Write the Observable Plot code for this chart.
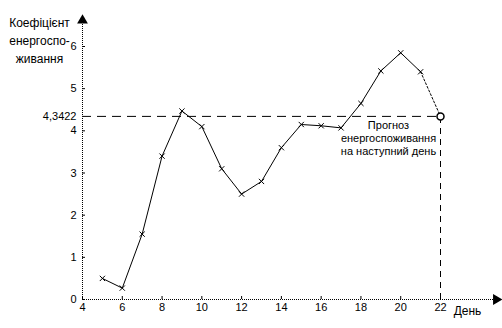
<!DOCTYPE html>
<html>
<head>
<meta charset="utf-8">
<script src="https://cdn.jsdelivr.net/npm/d3@7"></script>
<script src="https://cdn.jsdelivr.net/npm/@observablehq/plot@0.6"></script>
<style>
  html, body { margin: 0; padding: 0; background: #fff; }
</style>
</head>
<body>
<div id="chart"></div>
<script>
// ---- data ----
const days = [5, 6, 7, 8, 9, 10, 11, 12, 13, 14, 15, 16, 17, 18, 19, 20, 21];
const values = [0.5, 0.27, 1.55, 3.4, 4.47, 4.1, 3.1, 2.5, 2.8, 3.6, 4.15, 4.12, 4.07, 4.65, 5.42, 5.85, 5.4];
const forecastDay = 22;
const forecastValue = 4.3422;
const xTicks = [4, 6, 8, 10, 12, 14, 16, 18, 20, 22];
const yTicks = [0, 1, 2, 3, 4, 5, 6];
const yTitleLines = ["Коефіцієнт", "енергоспо-", "живання"];
const xTitle = "День";
const noteLines = ["Прогноз", "енергоспоживання", "на наступний день"];

// ---- build ----
const series = days.map((d, i) => ({ day: d, value: values[i] }));
const forecast = { day: forecastDay, value: forecastValue };
const bridge = [series[series.length - 1], forecast];
const xAxisEnd = 24.8;
const yAxisEnd = 6.62;
const fmt = v => String(v).replace(".", ",");

const chart = Plot.plot({
  width: 502,
  height: 328,
  marginLeft: 82,
  marginRight: 62,
  marginTop: 46,
  marginBottom: 29,
  style: { fontFamily: "'Liberation Sans', Arial, sans-serif", fontSize: "11px", color: "#000", background: "#fff" },
  x: { domain: [4, 22] },
  y: { domain: [0, 6] },
  marks: [
    // axis lines with arrows
    Plot.ruleY([0], { x1: 4, x2: xAxisEnd, stroke: "#000", strokeDasharray: "1,1" }),
    Plot.ruleX([4], { y1: 0, y2: yAxisEnd, stroke: "#000", strokeDasharray: "1,1" }),
    Plot.dot([{ x: xAxisEnd, y: 0 }], { x: "x", y: "y", symbol: "triangle", rotate: 90, r: 4, fill: "#000", stroke: "none" }),
    Plot.dot([{ x: 4, y: yAxisEnd }], { x: "x", y: "y", symbol: "triangle", r: 4, fill: "#000", stroke: "none" }),
    Plot.axisY({ ticks: yTicks, tickSize: 3, dx: 3, tickPadding: 6, label: null, tickFormat: fmt }),
    Plot.axisX({ ticks: xTicks, tickSize: 3, dy: -3, tickPadding: 4, label: null }),
    // forecast guides
    Plot.ruleY([forecastValue], { x1: 4, x2: forecastDay, stroke: "#000", strokeDasharray: "9,6" }),
    Plot.ruleX([forecastDay], { y1: 0, y2: forecastValue, stroke: "#000", strokeDasharray: "6,5" }),
    // series
    Plot.line(series, { x: "day", y: "value", stroke: "#000", strokeWidth: 1 }),
    Plot.line(bridge, { x: "day", y: "value", stroke: "#000", strokeWidth: 1, strokeDasharray: "2,2" }),
    Plot.dot(series, { x: "day", y: "value", symbol: "times", r: 2.5, stroke: "#000", strokeWidth: 1 }),
    Plot.dot([forecast], { x: "day", y: "value", r: 3.5, fill: "#fff", stroke: "#000" }),
    // labels
    Plot.text([forecast], { x: () => 4, y: "value", text: d => fmt(d.value), textAnchor: "end", dx: -6 }),
    Plot.text([forecast], { x: "day", y: "value", text: () => noteLines.join("\n"), dx: -52, dy: 3, lineAnchor: "top", lineHeight: 1.2 }),
    Plot.text([yTitleLines.join("\n")], { frameAnchor: "top-left", text: d => d, textAnchor: "middle", dx: -43, dy: -32, lineAnchor: "top", lineHeight: 1.5, fontSize: 12 }),
    Plot.text([xTitle], { frameAnchor: "bottom-right", text: d => d, textAnchor: "middle", dx: 27, dy: 15, fontSize: 12 })
  ]
});
document.getElementById("chart").appendChild(chart);
</script>
</body>
</html>
